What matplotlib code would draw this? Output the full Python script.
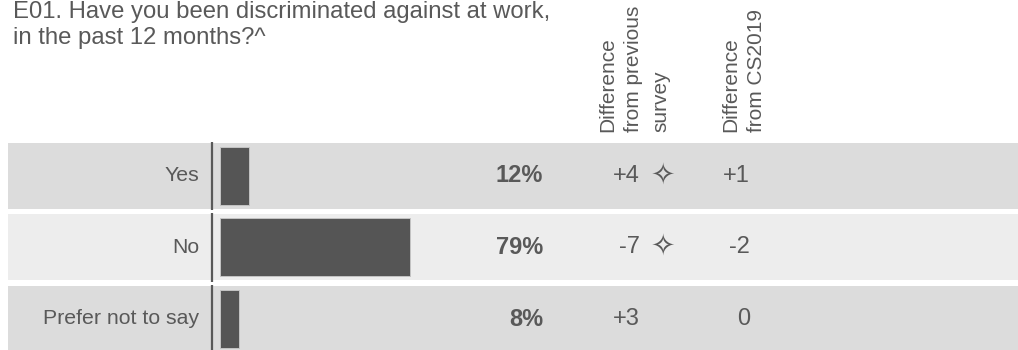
import matplotlib
matplotlib.use('Agg')
import matplotlib.pyplot as plt

plt.rcParams['font.family'] = ['Liberation Sans', 'DejaVu Sans']

title = 'E01. Have you been discriminated against at work,\nin the past 12 months?^'
categories = ['Yes', 'No', 'Prefer not to say']
pct = [12, 79, 8]
diff_prev = [4, -7, 3]
sig_prev = [True, True, False]
diff_cs = [1, -2, 0]
head_prev = 'Difference\nfrom previous\nsurvey'
head_cs = 'Difference\nfrom CS2019'

txt = '#595959'
band = ['#dcdcdc', '#ededed', '#dcdcdc']

W, H = 1018, 350
pitch = 71.5          # px between rows
row_h = 66            # px row band height
top0 = 143            # px, top of first row
c0 = top0 + row_h / 2
ylim = ((H - c0) / pitch, -c0 / pitch)

def fmt(v):
    return '0' if v == 0 else '%+d' % v

fig = plt.figure(figsize=(W / 100, H / 100), dpi=100)

# background / text layer in pixel x units
bg = fig.add_axes([0, 0, 1, 1])
bg.set_xlim(0, W)
bg.set_ylim(*ylim)
bg.axis('off')

hh = row_h / 2 / pitch
for i, cat in enumerate(categories):
    bg.fill_between([8, W], i - hh, i + hh, color=band[i], lw=0, zorder=0)
    bg.plot([212.3, 212.3], [i - hh - 0.02, i + hh + 0.02], color=txt, lw=1.6,
            solid_capstyle='butt', zorder=2)
    bg.text(199, i, cat, ha='right', va='center', fontsize=15.3, color=txt)
    bg.text(543, i, '%d%%' % pct[i], ha='right', va='center', fontsize=17,
            fontweight='bold', color=txt)
    bg.text(640, i, fmt(diff_prev[i]), ha='right', va='center', fontsize=17, color=txt)
    if sig_prev[i]:
        bg.text(663, i, '\u2727', ha='center', va='center', fontsize=21,
                color=txt, family='DejaVu Sans')
    bg.text(750, i, fmt(diff_cs[i]), ha='right', va='center', fontsize=17, color=txt)

# headers and title in pixel coords
bg.text(13, ylim[1] + 1 / pitch, title, ha='left', va='top', fontsize=17.2,
        color=txt, linespacing=1.25)
bg.text(598, ylim[1] + 132 / pitch, head_prev, rotation=90, ha='left', va='bottom',
        multialignment='left', fontsize=15, color=txt, linespacing=1.5)
bg.text(721, ylim[1] + 132 / pitch, head_cs, rotation=90, ha='left', va='bottom',
        multialignment='left', fontsize=15, color=txt, linespacing=1.5)

# bar layer: 0..100 % maps to 220..460 px
bx = fig.add_axes([220 / W, 0, 240 / W, 1])
bx.set_xlim(0, 100)
bx.set_ylim(*ylim)
bx.patch.set_alpha(0)
bx.axis('off')
bx.barh(range(len(categories)), pct, height=58 / pitch, color='#555555',
        edgecolor='#c4c4c4', linewidth=0.7, zorder=3)

fig.savefig('out.png', dpi=100)
